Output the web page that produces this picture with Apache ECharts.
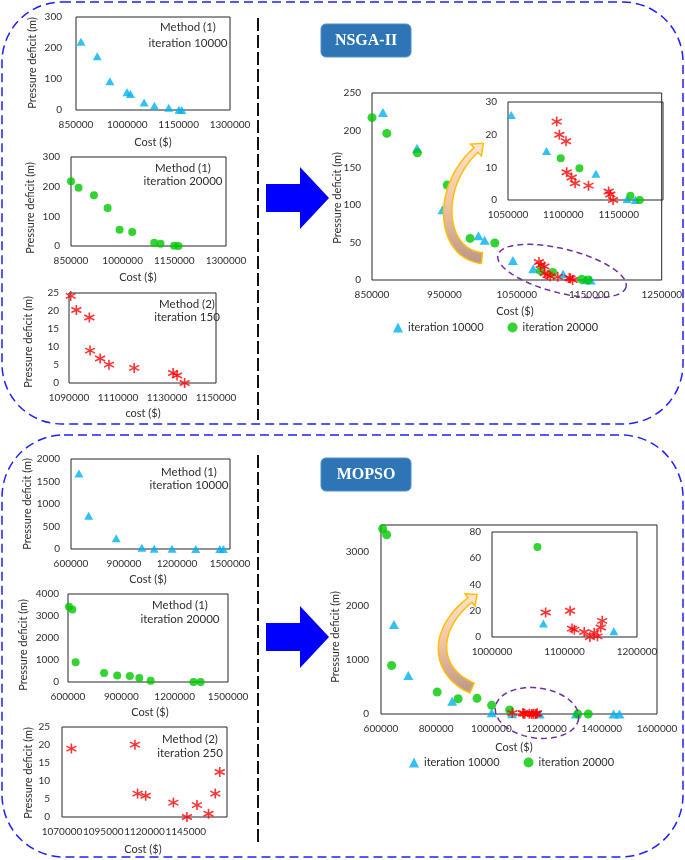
<!DOCTYPE html>
<html><head><meta charset="utf-8">
<script src="https://cdn.jsdelivr.net/npm/echarts@6/dist/echarts.min.js"></script>
<style>html,body{margin:0;padding:0;background:#fff}#c{width:685px;height:860px}</style>
</head><body><div id="c"></div>
<script>
// ---------------- DATA (cost $, pressure deficit m) ----------------
// NSGA-II panels
const nsgaSmallIt10000 = [[864600,220],[912000,173],[949000,93],[999000,57],[1009000,52],[1049000,24],[1079000,14],[1121000,7],[1151000,1],[1159000,0]];
const nsgaSmallIt20000 = [[850000,218],[872000,196],[916600,171],[956300,128],[991000,55],[1027700,47],[1091500,11],[1109900,8],[1149500,1],[1162000,0]];
const nsgaSmallM2It150 = [[1090700,24.2],[1093000,20.3],[1098300,18.2],[1098600,9.0],[1102700,6.8],[1106300,5.1],[1116600,4.2],[1132500,2.8],[1134100,2.1],[1137200,0]];
const nsgaMainIt10000 = [[865100,224],[912200,176],[947300,94],[997000,59],[1005500,53],[1044600,26],[1072600,15],[1113800,8],[1145000,0.5],[1152000,0]];
const nsgaMainIt20000 = [[850000,217],[870400,196],[912600,170],[953900,127],[985400,55.6],[1019600,49.4],[1082700,12.5],[1099500,10],[1139500,1],[1148400,0]];
const nsgaMainM2 = [[1080500,24],[1083000,20],[1088000,18],[1088500,9],[1092500,6.8],[1096000,5.1],[1106500,4.2],[1122500,2.8],[1124000,2.1],[1127000,0]];
const nsgaInsetIt10000 = [[1053000,26],[1084800,15],[1129400,8],[1157600,0.3],[1165000,0]];
const nsgaInsetIt20000 = [[1097600,12.8],[1114500,9.7],[1160600,1.3],[1169000,0]];
const nsgaInsetM2 = [[1094000,24],[1096400,20],[1102400,18],[1103000,8.5],[1107500,6.9],[1110600,5.1],[1122700,4.4],[1140900,2.6],[1142400,1.7],[1144900,0]];
// MOPSO panels
const mopsoSmallIt10000 = [[645000,1680],[700000,740],[856000,240],[1001000,30],[1071000,5],[1172000,5],[1306000,0],[1442000,0],[1462000,0]];
const mopsoSmallIt20000 = [[605600,3420],[624500,3300],[643000,897],[803000,410],[877000,290],[948000,274],[1001000,183],[1065000,60],[1306000,0],[1346000,0]];
const mopsoSmallM2It250 = [[1075700,19],[1114200,20.1],[1115800,6.5],[1120700,5.9],[1137500,4.0],[1145700,0],[1151800,3.3],[1158800,0.9],[1162900,6.5],[1165600,12.5]];
const mopsoMainIt10000 = [[647000,1657],[699000,714],[858000,234],[1001000,25],[1075000,5],[1175000,0],[1306000,0],[1443000,0],[1464000,0]];
const mopsoMainIt20000 = [[606000,3431],[620500,3320],[638500,899],[803600,406],[879600,283],[948000,290],[1001000,160],[1066000,74],[1313000,0],[1351000,0]];
const mopsoMainM2 = mopsoSmallM2It250;
const mopsoInsetIt10000 = [[1070900,10.2],[1168000,4.3]];
const mopsoInsetIt20000 = [[1062700,68.5]];
const mopsoInsetM2 = [[1074000,18.7],[1107700,20],[1110400,6.4],[1113600,5.6],[1127200,3.8],[1135000,0],[1141000,3.3],[1145500,0.5],[1150000,7.2],[1152000,12.3]];

// tick labels
const xTicksNsgaSmall = [850000,1000000,1150000,1300000];
const xTicksNsgaM2 = [1090000,1110000,1130000,1150000];
const xTicksNsgaMain = [850000,950000,1050000,1150000,1250000];
const xTicksNsgaInset = [1050000,1100000,1150000];
const xTicksMopsoSmall = [600000,900000,1200000,1500000];
const xTicksMopsoM2 = [1070000,1095000,1120000,1145000];
const xTicksMopsoMain = [600000,800000,1000000,1200000,1400000,1600000];
const xTicksMopsoInset = [1000000,1100000,1200000];
const yTicks300 = [0,100,200,300];
const yTicks25 = [0,5,10,15,20,25];
const yTicks250 = [0,50,100,150,200,250];
const yTicks30 = [0,10,20,30];
const yTicks2000 = [0,500,1000,1500,2000];
const yTicks4000 = [0,1000,2000,3000,4000];
const yTicks3000 = [0,1000,2000,3000];
const yTicks80 = [0,20,40,60,80];

// ---------------- LAYOUT ----------------
const FONT = 'Lato';
const TXT = '#2e2e2e';
const BLUE = '#00B0F0', GREEN = '#00C800', RED = '#FF0000';
const STAR = 'path://M5,0L5,10M0.67,2.5L9.33,7.5M0.67,7.5L9.33,2.5';

const panels = [
  {g:[76,17,154,93],  xr:[850000,1300000], xt:xTicksNsgaSmall, yr:[0,300], yt:yTicks300, ym:14},
  {g:[71,157,155,89], xr:[850000,1300000], xt:xTicksNsgaSmall, yr:[0,300], yt:yTicks300, ym:11},
  {g:[69,293,147,90], xr:[1090000,1150000], xt:xTicksNsgaM2, yr:[0,25], yt:yTicks25, ym:10},
  {g:[372,93,298,187], xr:[850000,1250000], xt:xTicksNsgaMain, yr:[0,250], yt:yTicks250, ym:11},
  {g:[508,102,155,98], xr:[1050000,1190000], xt:xTicksNsgaInset, yr:[0,30], yt:yTicks30, ym:11},
  {g:[71,459,159,90], xr:[600000,1500000], xt:xTicksMopsoSmall, yr:[0,2000], yt:yTicks2000, ym:11},
  {g:[68,594,160,88], xr:[600000,1500000], xt:xTicksMopsoSmall, yr:[0,4000], yt:yTicks4000, ym:9},
  {g:[62,727,165,90], xr:[1070000,1170000], xt:xTicksMopsoM2, yr:[0,25], yt:yTicks25, ym:12},
  {g:[381,525,276,189], xr:[600000,1600000], xt:xTicksMopsoMain, yr:[0,3500], yt:yTicks3000, ym:12},
  {g:[492,532,145,105], xr:[1000000,1200000], xt:xTicksMopsoInset, yr:[0,80], yt:yTicks80, ym:11}
];

const lbl = {fontFamily: FONT, fontSize: 10, color: TXT, hideOverlap:false, formatter: v => String(v)};
const grids = [], xAxes = [], yAxes = [];
panels.forEach((p, i) => {
  grids.push({left:p.g[0], top:p.g[1], width:p.g[2], height:p.g[3], show:true,
    borderColor:'#262626', borderWidth:1, backgroundColor:'transparent', containLabel:false});
  xAxes.push({type:'value', gridIndex:i, min:p.xr[0], max:p.xr[1],
    axisLine:{show:false}, axisTick:{show:false}, splitLine:{show:false},
    axisLabel:Object.assign({customValues:p.xt, margin:10}, lbl)});
  yAxes.push({type:'value', gridIndex:i, min:p.yr[0], max:p.yr[1],
    axisLine:{show:false}, axisTick:{show:false}, splitLine:{show:false},
    axisLabel:Object.assign({customValues:p.yt, margin:p.ym}, lbl)});
});

function tri(name, data, gi, sz) { return {type:'scatter', name, xAxisIndex:gi, yAxisIndex:gi, data, symbol:'triangle', symbolSize:sz||[9,8], itemStyle:{color:BLUE}, clip:false, z:3}; }
function dot(name, data, gi, sz) { return {type:'scatter', name, xAxisIndex:gi, yAxisIndex:gi, data, symbol:'circle', symbolSize:sz||8, itemStyle:{color:GREEN}, clip:false, z:3}; }
function star(name, data, gi, sz) { return {type:'scatter', name, xAxisIndex:gi, yAxisIndex:gi, data, symbol:STAR, symbolSize:sz||10, itemStyle:{color:'rgba(0,0,0,0)', borderColor:RED, borderWidth:1.6}, clip:false, z:4}; }

const series = [
  tri('iteration 10000', nsgaMainIt10000, 3, [10,9]),
  dot('iteration 20000', nsgaMainIt20000, 3, 9),
  star('nsga main m2', nsgaMainM2, 3),
  tri('nsga s1', nsgaSmallIt10000, 0),
  dot('nsga s2', nsgaSmallIt20000, 1),
  star('nsga s3', nsgaSmallM2It150, 2),
  tri('nsga in1', nsgaInsetIt10000, 4),
  dot('nsga in2', nsgaInsetIt20000, 4),
  star('nsga in3', nsgaInsetM2, 4),
  tri('iteration 10000', mopsoMainIt10000, 8, [10,9]),
  dot('iteration 20000', mopsoMainIt20000, 8, 9),
  star('mopso main m2', mopsoMainM2, 8),
  tri('mopso s1', mopsoSmallIt10000, 5),
  dot('mopso s2', mopsoSmallIt20000, 6),
  star('mopso s3', mopsoSmallM2It250, 7),
  tri('mopso in1', mopsoInsetIt10000, 9),
  dot('mopso in2', mopsoInsetIt20000, 9),
  star('mopso in3', mopsoInsetM2, 9)
];

// ---------------- DECORATION ----------------
function txt(t, x, y, size, rot) {
  return {type:'text', x, y, rotation:rot||0, z:50,
    style:{text:t, font:(size||11)+'px '+FONT, fill:TXT, textAlign:'center', textVerticalAlign:'middle'}};
}
// curved block arrow along a cubic Bezier (P0 tail -> P3 head)
function curvedArrow(P0, C1, C2, P3, w0, w2, headW, headL) {
  const L = [], R = [], N = 40;
  for (let k = 0; k <= N; k++) {
    const t = k / N, u = 1 - t;
    const bx = u*u*u*P0[0] + 3*u*u*t*C1[0] + 3*u*t*t*C2[0] + t*t*t*P3[0];
    const by = u*u*u*P0[1] + 3*u*u*t*C1[1] + 3*u*t*t*C2[1] + t*t*t*P3[1];
    const dx = 3*u*u*(C1[0]-P0[0]) + 6*u*t*(C2[0]-C1[0]) + 3*t*t*(P3[0]-C2[0]);
    const dy = 3*u*u*(C1[1]-P0[1]) + 6*u*t*(C2[1]-C1[1]) + 3*t*t*(P3[1]-C2[1]);
    const len = Math.hypot(dx, dy), nx = -dy/len, ny = dx/len;
    const w = w0 + (w2 - w0) * t;
    L.push([bx + w*nx, by + w*ny]); R.push([bx - w*nx, by - w*ny]);
  }
  const dx = P3[0]-C2[0], dy = P3[1]-C2[1], len = Math.hypot(dx, dy);
  const ux = dx/len, uy = dy/len, nx = -uy, ny = ux;
  const tip = [P3[0] + headL*ux, P3[1] + headL*uy];
  const wl = [P3[0] + headW*nx, P3[1] + headW*ny], wr = [P3[0] - headW*nx, P3[1] - headW*ny];
  return L.concat([wl, tip, wr]).concat(R.reverse());
}
function ellipsePts(cx, cy, rx, ry, degTilt) {
  const th = degTilt * Math.PI / 180, pts = [];
  for (let k = 0; k < 90; k++) {
    const a = k / 90 * 2 * Math.PI;
    const ex = rx*Math.cos(a), ey = ry*Math.sin(a);
    pts.push([cx + ex*Math.cos(th) - ey*Math.sin(th), cy + ex*Math.sin(th) + ey*Math.cos(th)]);
  }
  return pts;
}
const arrowFill = {type:'linear', x:0, y:0, x2:0, y2:1, colorStops:[
  {offset:0, color:'#FCE4D6'}, {offset:0.5, color:'#F2C3A3'}, {offset:1, color:'#B8968A'}]};
const dashBlue = {fill:'none', stroke:'#1F1FFF', lineWidth:1.5, lineDash:[9,5]};
const ROT = Math.PI / 2;

const graphics = [
  {type:'rect', shape:{x:2, y:2, width:681, height:422, r:60}, style:dashBlue, z:1},
  {type:'rect', shape:{x:2, y:435, width:681, height:422, r:62}, style:dashBlue, z:1},
  {type:'line', shape:{x1:258, y1:18, x2:258, y2:420}, style:{stroke:'#111', lineWidth:2, lineDash:[13,4]}, z:1},
  {type:'line', shape:{x1:258, y1:455, x2:258, y2:842}, style:{stroke:'#111', lineWidth:2, lineDash:[13,4]}, z:1},
  {type:'rect', shape:{x:321, y:24, width:90, height:33, r:5}, style:{fill:'#2E75B6', stroke:'#4F8FCC', lineWidth:1}, z:5},
  {type:'text', x:366, y:41, z:6, style:{text:'NSGA-II', font:'bold 16px "Liberation Serif"', fill:'#fff', textAlign:'center', textVerticalAlign:'middle'}},
  {type:'rect', shape:{x:321, y:458, width:90, height:33, r:5}, style:{fill:'#2E75B6', stroke:'#4F8FCC', lineWidth:1}, z:5},
  {type:'text', x:366, y:475, z:6, style:{text:'MOPSO', font:'bold 16px "Liberation Serif"', fill:'#fff', textAlign:'center', textVerticalAlign:'middle'}},
  {type:'polygon', shape:{points:[[266,184],[300,184],[300,167],[329,198],[300,229],[300,212],[266,212]]}, style:{fill:'#0000FF'}, z:5},
  {type:'polygon', shape:{points:[[266,623],[300,623],[300,606],[329,637],[300,668],[300,651],[266,651]]}, style:{fill:'#0000FF'}, z:5},
  {type:'polygon', shape:{points:curvedArrow([482,258],[440,254],[435,187],[476,150],5.5,3,8,10)}, style:{fill:arrowFill, stroke:'#FFC000', lineWidth:1.5}, z:20},
  {type:'polygon', shape:{points:curvedArrow([472,688],[435,672],[431,631],[470,600],5.5,3,8,9)}, style:{fill:arrowFill, stroke:'#FFC000', lineWidth:1.5}, z:20},
  {type:'polygon', shape:{points:ellipsePts(562,271,66,22,14)}, style:{fill:'none', stroke:'#7030A0', lineWidth:1.5, lineDash:[6,4]}, z:20},
  {type:'polygon', shape:{points:ellipsePts(537,713,42,25,8)}, style:{fill:'none', stroke:'#7030A0', lineWidth:1.5, lineDash:[6,4]}, z:20},
  txt('Cost ($)', 153, 142), txt('Pressure deficit (m)', 32, 63, 11, ROT),
  txt('Cost ($)', 138, 277), txt('Pressure deficit (m)', 30, 208, 11, ROT),
  txt('cost ($)', 143, 413), txt('Pressure deficit (m)', 28, 342, 11, ROT),
  txt('Cost ($)', 515, 311), txt('Pressure deficit (m)', 337, 198, 11, ROT),
  txt('Cost ($)', 148, 579), txt('Pressure deficit (m)', 27, 504, 11, ROT),
  txt('Cost ($)', 150, 712), txt('Pressure deficit (m)', 23, 645, 11, ROT),
  txt('Cost ($)', 143, 849), txt('Pressure deficit (m)', 28, 773, 11, ROT),
  txt('Cost ($)', 514, 747), txt('Pressure deficit (m)', 335, 637, 11, ROT),
  txt('Method (1)', 188, 27, 11.5), txt('iteration 10000', 188, 43, 11.5),
  txt('Method (1)', 183, 168, 11.5), txt('iteration 20000', 183, 181, 11.5),
  txt('Method (2)', 187, 304, 11.5), txt('iteration 150', 187, 317, 11.5),
  txt('Method (1)', 189, 472, 11.5), txt('iteration 10000', 189, 485, 11.5),
  txt('Method (1)', 180, 605, 11.5), txt('iteration 20000', 180, 619, 11.5),
  txt('Method (2)', 190, 739, 11.5), txt('iteration 250', 190, 753, 11.5)
];

const legendBase = {data:['iteration 10000','iteration 20000'], itemWidth:10, itemHeight:10, itemGap:24,
  textStyle:{fontFamily:FONT, fontSize:11, color:TXT}, padding:0, selectedMode:false};

const chart = echarts.init(document.getElementById('c'), null, {renderer:'canvas'});
chart.setOption({
  animation:false,
  backgroundColor:'#fff',
  grid:grids, xAxis:xAxes, yAxis:yAxes, series,
  legend:[Object.assign({left:393, top:322}, legendBase), Object.assign({left:409, top:757}, legendBase)],
  graphic:{elements:graphics}
});
</script></body></html>
